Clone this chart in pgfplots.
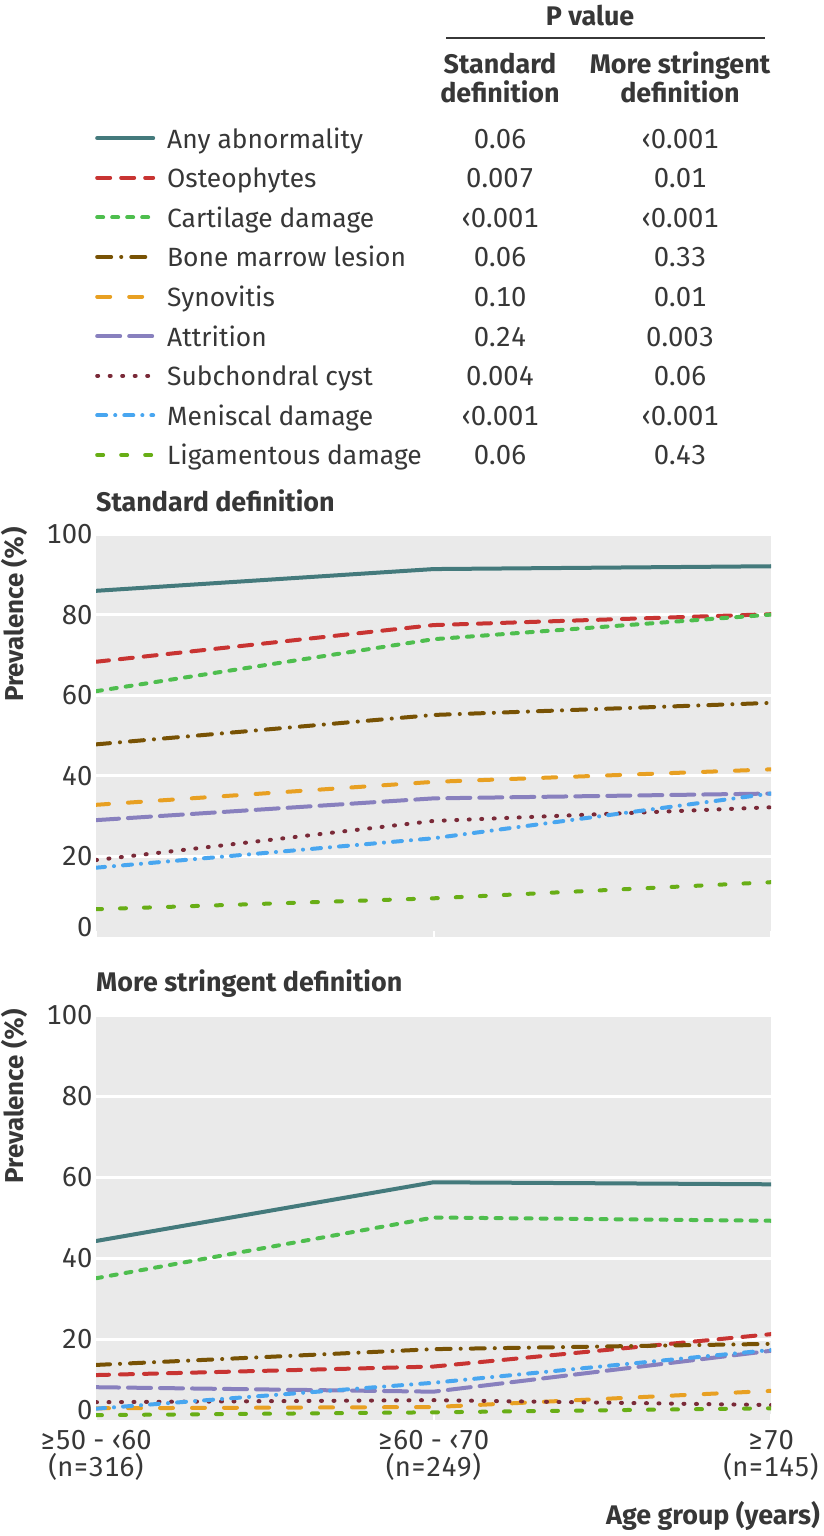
\documentclass[border=0pt]{standalone}
\usepackage{fontspec}
\setmainfont{Fira Sans}[Numbers=Monospaced]
\usepackage{pgfplots}
\pgfplotsset{compat=1.18}
\definecolor{txt}{RGB}{55,55,55}
\definecolor{bgc}{RGB}{234,234,234}
\definecolor{cAny}{RGB}{68,122,124}
\definecolor{cOst}{RGB}{200,52,50}
\definecolor{cCar}{RGB}{78,190,78}
\definecolor{cBml}{RGB}{120,82,4}
\definecolor{cSyn}{RGB}{232,160,34}
\definecolor{cAtt}{RGB}{136,128,190}
\definecolor{cCys}{RGB}{122,42,56}
\definecolor{cMen}{RGB}{72,166,240}
\definecolor{cLig}{RGB}{104,174,22}
\newcommand\fs{\fontsize{26.5}{30}\selectfont}
\newcommand\fb{\bfseries\fontsize{27}{30}\selectfont}
\newcommand\fn{\fontsize{27.5}{26.5}\selectfont}
\newcommand\pv[1]{\makebox[180bp]{\fn #1}}
\pgfplotsset{
  sAny/.style={cAny, solid},
  sOst/.style={cOst, dash pattern=on 13bp off 11bp},
  sCar/.style={cCar, dash pattern=on 6bp off 9bp},
  sBml/.style={cBml, dash pattern=on 14bp off 10bp on 0.1bp off 10bp},
  sSyn/.style={cSyn, dash pattern=on 13bp off 19bp},
  sAtt/.style={cAtt, dash pattern=on 23bp off 9bp},
  sCys/.style={cCys, dash pattern=on 1bp off 11.5bp},
  sMen/.style={cMen, dash pattern=on 9bp off 9bp on 0.1bp off 9bp},
  sLig/.style={cLig, dash pattern=on 6bp off 18bp},
  myaxis/.style={
    scale only axis, width=675bp,
    xmin=0, xmax=2, ymin=0, ymax=100,
    axis background/.style={fill=bgc},
    axis line style={draw=none},
    ytick={20,40,60,80,100},
    extra y ticks={0},
    extra y tick style={grid=none, yticklabel style={yshift=10bp}},
    ymajorgrids, major grid style={white, line width=3bp},
    xtick={0,1,2}, tick align=inside, xtick pos=lower, ytick pos=left,
    major tick length=6bp,
    xtick style={white, line width=2bp}, ytick style={draw=none},
    tick label style={font=\fn, text=txt},
    /pgf/number format/assume math mode=true,
    title style={font=\fb, text=txt, anchor=base west, inner sep=0pt},
    ylabel={Prevalence (\%)},
    ylabel style={font=\bfseries\fontsize{26}{30}\selectfont, text=txt, at={(axis description cs:-0.1215,0.80)}, anchor=center},
    every axis plot/.append style={line width=4bp, line cap=round, no marks},
  }
}
\begin{document}
\begin{tikzpicture}
\useasboundingbox (0,0) rectangle (824bp,-1536bp);
% ---------------- top panel ----------------
\begin{axis}[myaxis, height=403bp, at={(96bp,-937bp)}, anchor=south west,
  title={Standard definition}, title style={at={(axis description cs:0,1.042)}},
  xticklabels={,,},
  legend style={at={(axis description cs:-0.0015,2.0025)}, anchor=north west,
    draw=none, fill=none, inner sep=0pt, row sep=15.6bp, font=\fs, text=txt,
    nodes={inner sep=0pt, text height=18bp, text depth=6bp, anchor=base west},
    /tikz/every odd column/.append style={column sep=12bp}},
  legend image code/.code={\draw[#1] (2bp,10bp) -- (58bp,10bp);},
]
\addplot+[sAny] coordinates {(0,85.9) (1,91.3) (2,92.0)};
\addlegendentry{\makebox[243bp][l]{Any abnormality}\pv{0.06}\pv{‹0.001}}
\addplot+[sOst] coordinates {(0,68.3) (1,77.4) (2,80.1)};
\addlegendentry{\makebox[243bp][l]{Osteophytes}\pv{0.007}\pv{0.01}}
\addplot+[sCar] coordinates {(0,61.0) (1,73.9) (2,80.0)};
\addlegendentry{\makebox[243bp][l]{Cartilage damage}\pv{‹0.001}\pv{‹0.001}}
\addplot+[sBml] coordinates {(0,47.8) (1,55.1) (2,58.1)};
\addlegendentry{\makebox[243bp][l]{Bone marrow lesion}\pv{0.06}\pv{0.33}}
\addplot+[sSyn] coordinates {(0,32.8) (1,38.5) (2,41.6)};
\addlegendentry{\makebox[243bp][l]{Synovitis}\pv{0.10}\pv{0.01}}
\addplot+[sAtt] coordinates {(0,29.0) (1,34.4) (2,35.6)};
\addlegendentry{\makebox[243bp][l]{Attrition}\pv{0.24}\pv{0.003}}
\addplot+[sCys] coordinates {(0,19.1) (1,28.8) (2,32.2)};
\addlegendentry{\makebox[243bp][l]{Subchondral cyst}\pv{0.004}\pv{0.06}}
\addplot+[sMen] coordinates {(0,17.2) (1,24.5) (2,35.6)};
\addlegendentry{\makebox[243bp][l]{Meniscal damage}\pv{‹0.001}\pv{‹0.001}}
\addplot+[sLig] coordinates {(0,6.9) (1,9.6) (2,13.6)};
\addlegendentry{\makebox[243bp][l]{Ligamentous damage}\pv{0.06}\pv{0.43}}
\end{axis}
% ---------------- bottom panel ----------------
\begin{axis}[myaxis, height=405bp, at={(96bp,-1420bp)}, anchor=south west,
  title={More stringent definition}, title style={at={(axis description cs:0,1.044)}},
  xticklabels={{≥50 - ‹60\\(n=316)},{≥60 - ‹70\\(n=249)},{≥70\\(n=145)}},
  xticklabel style={align=center, yshift=-7bp},
  xlabel={Age group (years)},
  xlabel style={font=\fb, text=txt, at={(axis description cs:1.0726,-0.2568)}, anchor=base east, inner sep=0pt},
]
\addplot+[sAny] coordinates {(0,44.2) (1,58.7) (2,58.2)};
\addplot+[sOst] coordinates {(0,11.1) (1,13.2) (2,21.2)};
\addplot+[sCar] coordinates {(0,35.0) (1,50.0) (2,49.2)};
\addplot+[sBml] coordinates {(0,13.6) (1,17.5) (2,18.8)};
\addplot+[sSyn] coordinates {(0,2.9) (1,3.2) (2,7.2)};
\addplot+[sAtt] coordinates {(0,8.1) (1,7.0) (2,17.1)};
\addplot+[sCys] coordinates {(0,4.4) (1,4.9) (2,3.7)};
\addplot+[sMen] coordinates {(0,2.8) (1,9.2) (2,17.3)};
\addplot+[sLig] coordinates {(0,1.2) (1,1.9) (2,2.9)};
\end{axis}
% ---------------- table header ----------------
\node[font=\fb, text=txt, anchor=base, inner sep=0pt] at (590bp,-25bp) {P value};
\draw[txt, line width=2bp] (446bp,-37.5bp) -- (765bp,-37.5bp);
\node[font=\fb, text=txt, anchor=base, inner sep=0pt] at (500bp,-73bp) {Standard};
\node[font=\fb, text=txt, anchor=base, inner sep=0pt] at (500bp,-102bp) {definition};
\node[font=\fb, text=txt, anchor=base, inner sep=0pt] at (680bp,-73bp) {More stringent};
\node[font=\fb, text=txt, anchor=base, inner sep=0pt] at (680bp,-102bp) {definition};
\end{tikzpicture}
\end{document}
